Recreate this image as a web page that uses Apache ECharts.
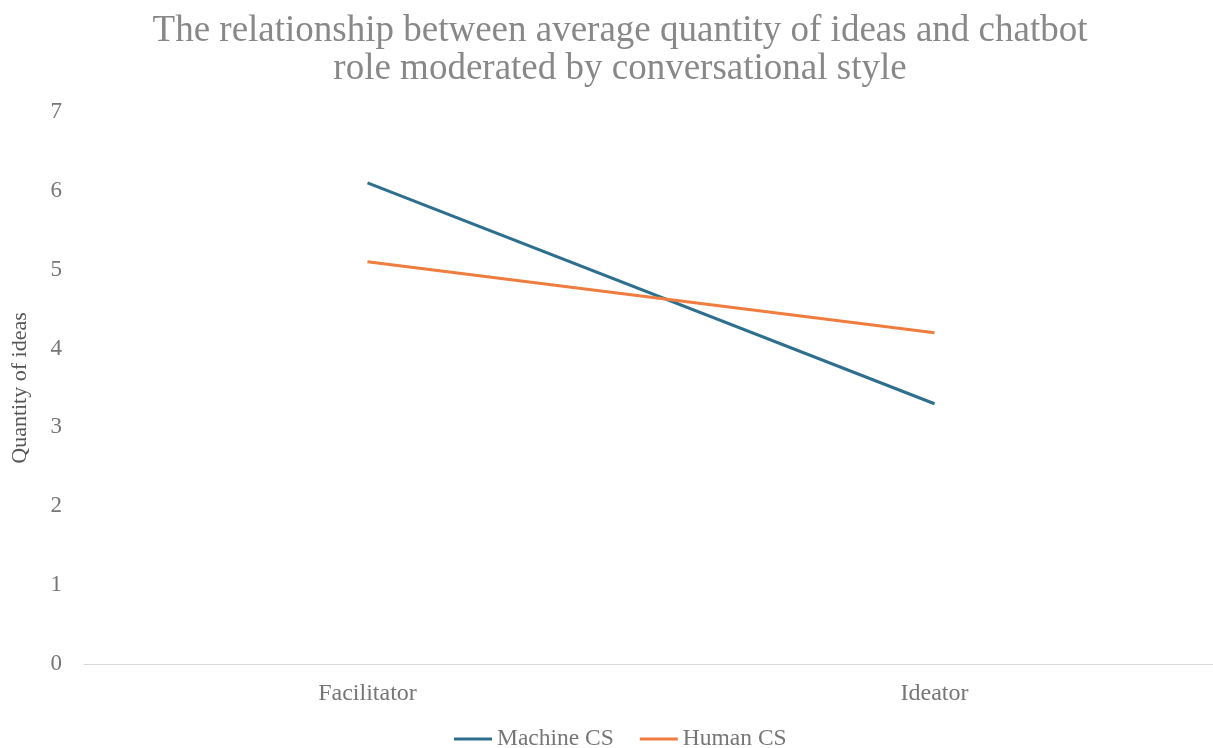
<!DOCTYPE html>
<html>
<head>
<meta charset="utf-8">
<script src="https://cdn.jsdelivr.net/npm/echarts@6/dist/echarts.min.js"></script>
<style>
  html, body { margin: 0; padding: 0; background: #ffffff; }
  #chart { width: 1213px; height: 748px; }
</style>
</head>
<body>
<div id="chart"></div>
<script>
// Chatbot roles on the x axis
const roles = ['Facilitator', 'Ideator'];
// Average quantity of ideas per conversational style
const machineCS = [6.1, 3.3];
const humanCS = [5.1, 4.2];
const seriesNames = ['Machine CS', 'Human CS'];

const serif = '"Liberation Serif", "DejaVu Serif", serif';
const textGray = '#767676';

const chart = echarts.init(document.getElementById('chart'), null, { renderer: 'canvas' });
chart.setOption({
  animation: false,
  backgroundColor: '#ffffff',
  title: {
    text: 'The relationship between average quantity of ideas and chatbot\nrole moderated by conversational style',
    // both lines centred on x = 620
    left: 615,
    textAlign: 'center',
    top: 7,
    textStyle: {
      fontFamily: serif,
      fontWeight: 'normal',
      fontSize: 37,
      lineHeight: 38,
      color: '#888888'
    }
  },
  legend: {
    top: 722,
    left: 449,
    itemWidth: 38,
    itemHeight: 3,
    itemGap: 26,
    icon: 'rect',
    textStyle: { fontFamily: serif, fontSize: 23.5, color: textGray }
  },
  grid: {
    left: 84,
    right: -5,
    top: 112,
    bottom: 84,
    containLabel: false,
    outerBoundsMode: 'none'
  },
  xAxis: {
    type: 'category',
    data: roles,
    boundaryGap: true,
    axisLine: { show: true, lineStyle: { color: '#d9d9d9', width: 1 } },
    axisTick: { show: false },
    axisLabel: { fontFamily: serif, fontSize: 24, color: textGray, margin: 18 }
  },
  yAxis: {
    type: 'value',
    min: 0,
    max: 7,
    interval: 1,
    name: 'Quantity of ideas',
    nameLocation: 'middle',
    nameGap: 53,
    nameTextStyle: { fontFamily: serif, fontSize: 22, color: '#555555' },
    axisLine: { show: false },
    axisTick: { show: false },
    splitLine: { show: false },
    axisLabel: { fontFamily: serif, fontSize: 23, color: textGray, margin: 22 }
  },
  series: [
    {
      name: seriesNames[0],
      type: 'line',
      data: machineCS,
      symbol: 'none',
      lineStyle: { color: '#2e6f8e', width: 3 },
      itemStyle: { color: '#2e6f8e' }
    },
    {
      name: seriesNames[1],
      type: 'line',
      data: humanCS,
      symbol: 'none',
      lineStyle: { color: '#ee7d3f', width: 3 },
      itemStyle: { color: '#ee7d3f' }
    }
  ]
});
</script>
</body>
</html>
